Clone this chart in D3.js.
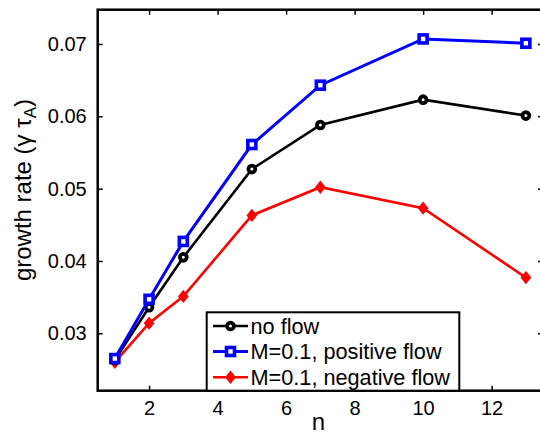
<!DOCTYPE html>
<html><head><meta charset="utf-8">
<script src="https://cdn.jsdelivr.net/npm/d3@7"></script>
<style>body{margin:0;background:#fff}svg{display:block}text{font-family:"Liberation Sans",Arial,sans-serif}</style>
</head><body><div id="c"></div>
<script>
const nValues = [1, 2, 3, 5, 7, 10, 13];
const noFlow = [0.0263, 0.0336, 0.0405, 0.0527, 0.0588, 0.0623, 0.0601];
const posFlow = [0.0265, 0.0347, 0.0427, 0.0561, 0.0643, 0.0707, 0.0701];
const negFlow = [0.0260, 0.0314, 0.0351, 0.0463, 0.0502, 0.0473, 0.0377];
const xTicks = [2, 4, 6, 8, 10, 12];
const yTicks = [0.03, 0.04, 0.05, 0.06, 0.07];
const seriesNames = ["no flow", "M=0.1, positive flow", "M=0.1, negative flow"];
const seriesColors = ["#000000", "#0000ff", "#ff0000"];

const W = 540, H = 435;
const L = 97.7, R = 543, T = 9.7, B = 390.7;
const svg = d3.select("#c").append("svg").attr("width", W).attr("height", H);
const x = d3.scaleLinear().domain([0.5, 13.5]).range([L, R]);
const y = d3.scaleLinear().domain([0.02206, 0.07474]).range([B, T]);

const tl = 5;
svg.append("g").attr("transform", `translate(0,${B})`)
  .call(d3.axisBottom(x).tickValues(xTicks).tickSizeInner(-tl).tickSizeOuter(0).tickPadding(10).tickFormat(d3.format("d")))
  .call(g => g.select(".domain").remove())
  .call(g => g.selectAll("text").attr("font-size", 20).attr("fill", "#000"))
  .call(g => g.selectAll("line").attr("stroke-width", 1.5));
svg.append("g").attr("transform", `translate(0,${T})`)
  .call(d3.axisTop(x).tickValues(xTicks).tickSizeInner(-tl).tickSizeOuter(0).tickFormat(""))
  .call(g => g.select(".domain").remove())
  .call(g => g.selectAll("line").attr("stroke-width", 1.5));
svg.append("g").attr("transform", `translate(${L},0)`)
  .call(d3.axisLeft(y).tickValues(yTicks).tickSizeInner(-tl).tickSizeOuter(0).tickPadding(11).tickFormat(d3.format(".2f")))
  .call(g => g.select(".domain").remove())
  .call(g => g.selectAll("text").attr("font-size", 20).attr("fill", "#000"))
  .call(g => g.selectAll("line").attr("stroke-width", 1.5));
svg.append("g").attr("transform", `translate(${R},0)`)
  .call(d3.axisRight(y).tickValues(yTicks).tickSizeInner(-tl).tickSizeOuter(0).tickFormat(""))
  .call(g => g.select(".domain").remove())
  .call(g => g.selectAll("line").attr("stroke-width", 1.5));
svg.append("rect").attr("x", L).attr("y", T).attr("width", R - L).attr("height", B - T)
  .attr("fill", "none").attr("stroke", "#000").attr("stroke-width", 2.5);

svg.append("text").attr("x", (L + R) / 2 - 2).attr("y", 429.5).attr("text-anchor", "middle")
  .attr("font-size", 24).text("n");
const yl = svg.append("text").attr("transform", `translate(31,190) rotate(-90)`)
  .attr("text-anchor", "middle").attr("font-size", 24);
yl.append("tspan").text("growth rate (\u03B3 \u03C4");
yl.append("tspan").attr("font-size", 17).attr("dy", 5).text("A");
yl.append("tspan").attr("dy", -5).text(")");

const all = [noFlow, posFlow, negFlow];
const widths = [2.6, 3, 2.6];
const line = d3.line().x((d, i) => x(nValues[i])).y(d => y(d));

function marker(g, k, cx, cy) {
  const c = seriesColors[k];
  if (k === 0) {
    g.append("circle").attr("cx", cx).attr("cy", cy).attr("r", 3.4)
      .attr("fill", "#fff").attr("stroke", c).attr("stroke-width", 3.8);
  } else if (k === 1) {
    g.append("rect").attr("x", cx - 4).attr("y", cy - 4).attr("width", 8).attr("height", 8)
      .attr("fill", "#fff").attr("stroke", c).attr("stroke-width", 3.6);
  } else {
    const s = 5.5;
    g.append("path").attr("d", `M${cx},${cy - s}L${cx + s * 0.8},${cy}L${cx},${cy + s}L${cx - s * 0.8},${cy}Z`)
      .attr("fill", c).attr("stroke", c).attr("stroke-width", 1.5);
  }
}

[2, 0, 1].forEach(k => {
  const g = svg.append("g");
  g.append("path").datum(all[k]).attr("d", line).attr("fill", "none")
    .attr("stroke", seriesColors[k]).attr("stroke-width", widths[k]).attr("stroke-linejoin", "miter");
  all[k].forEach((v, i) => marker(g, k, x(nValues[i]), y(v)));
});

const lg = svg.append("g");
lg.append("rect").attr("x", 206.7).attr("y", 312.3).attr("width", 252.6).attr("height", 78.4)
  .attr("fill", "#fff").attr("stroke", "#000").attr("stroke-width", 2);
const rowY = [326, 351.5, 377.3];
seriesNames.forEach((nm, k) => {
  lg.append("line").attr("x1", 213).attr("x2", 248).attr("y1", rowY[k]).attr("y2", rowY[k])
    .attr("stroke", seriesColors[k]).attr("stroke-width", widths[k]);
  marker(lg, k, 230.5, rowY[k]);
  lg.append("text").attr("x", 250.5).attr("y", rowY[k] + 7.5).attr("font-size", 21.7).text(nm);
});
</script></body></html>
